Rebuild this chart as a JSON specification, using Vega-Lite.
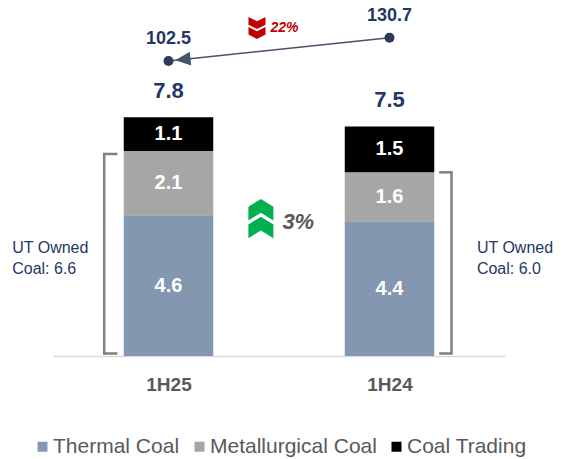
{
  "$schema": "https://vega.github.io/schema/vega-lite/v6.json",
  "width": 452,
  "height": 356,
  "autosize": {"type": "none"},
  "padding": {"left": 53, "top": 0, "right": 64, "bottom": 103},
  "background": "#ffffff",
  "config": {"view": {"stroke": null}, "text": {"font": "Liberation Sans"}},
  "datasets": {
    "volume": [
      {"period": "1H25", "idx": 1, "type": "Thermal Coal", "value": 4.6},
      {"period": "1H25", "idx": 1, "type": "Metallurgical Coal", "value": 2.1},
      {"period": "1H25", "idx": 1, "type": "Coal Trading", "value": 1.1},
      {"period": "1H24", "idx": 2, "type": "Thermal Coal", "value": 4.4},
      {"period": "1H24", "idx": 2, "type": "Metallurgical Coal", "value": 1.6},
      {"period": "1H24", "idx": 2, "type": "Coal Trading", "value": 1.5}
    ],
    "owned": [
      {"period": "1H25", "idx": 1, "owned": 6.6, "label": "UT Owned\nCoal: 6.6"},
      {"period": "1H24", "idx": 2, "owned": 6.0, "label": "UT Owned\nCoal: 6.0"}
    ],
    "price": [
      {"period": "1H25", "idx": 1, "price": 102.5},
      {"period": "1H24", "idx": 2, "price": 130.7}
    ],
    "change": [
      {"measure": "price", "direction": "down", "change": "22%"},
      {"measure": "volume", "direction": "up", "change": "3%"}
    ]
  },
  "layer": [
    {
      "layer": [
        {
          "data": {"name": "volume"},
          "mark": {"type": "bar", "width": 89.5},
          "encoding": {
            "x": {
              "field": "idx", "type": "quantitative", "title": null,
              "scale": {"domain": [0.5, 2.5], "nice": false, "zero": false},
              "axis": {
                "orient": "bottom",
                "values": [1, 2],
                "labelExpr": "datum.value == 1 ? '1H25' : '1H24'",
                "title": null, "ticks": false, "grid": false,
                "domainColor": "#d9d9d9", "domainWidth": 1.5,
                "labelFont": "Liberation Sans", "labelFontWeight": "bold",
                "labelFontSize": 19, "labelColor": "#595959",
                "labelBaseline": "alphabetic", "labelPadding": 34
              }
            },
            "y": {
              "field": "value", "type": "quantitative", "stack": "zero",
              "scale": {"domain": [0, 11.63], "nice": false, "zero": false},
              "axis": null
            },
            "color": {
              "field": "type", "type": "nominal",
              "scale": {
                "domain": ["Thermal Coal", "Metallurgical Coal", "Coal Trading"],
                "range": ["#8497b0", "#a6a6a6", "#000000"]
              },
              "legend": {
                "orient": "none", "legendX": -21, "legendY": 436,
                "direction": "horizontal", "title": null,
                "symbolType": "square", "symbolSize": 100, "symbolStrokeWidth": 0,
                "labelFont": "Liberation Sans", "labelFontSize": 21,
                "labelColor": "#595959", "labelOffset": 0,
                "columnPadding": 9, "padding": 0, "labelLimit": 400
              }
            },
            "order": {"field": "type", "sort": "descending"}
          }
        },
        {
          "data": {"name": "volume"},
          "mark": {"type": "text", "color": "#ffffff", "fontWeight": "bold", "fontSize": 20, "baseline": "middle"},
          "encoding": {
            "x": {"field": "idx", "type": "quantitative", "title": null},
            "y": {"field": "value", "type": "quantitative", "stack": "zero", "bandPosition": 0.5, "title": null, "axis": null},
            "detail": {"field": "type"},
            "text": {"field": "value", "type": "quantitative", "format": ".1f"},
            "order": {"field": "type", "sort": "descending"}
          }
        },
        {
          "data": {"name": "volume"},
          "mark": {"type": "text", "color": "#1f3864", "fontWeight": "bold", "fontSize": 22, "baseline": "alphabetic", "dy": -19},
          "encoding": {
            "x": {"field": "idx", "type": "quantitative", "title": null},
            "y": {"aggregate": "sum", "field": "value", "type": "quantitative", "title": null, "axis": null},
            "text": {"aggregate": "sum", "field": "value", "type": "quantitative", "format": ".1f"}
          }
        },
        {
          "data": {"name": "owned"},
          "transform": [{"filter": "datum.idx == 1"}],
          "mark": {"type": "rule", "color": "#7f7f7f", "strokeWidth": 2.5, "xOffset": -64.3, "y2Offset": -2.5},
          "encoding": {
            "x": {"field": "idx", "type": "quantitative", "title": null},
            "y": {"field": "owned", "type": "quantitative", "title": null, "axis": null},
            "y2": {"datum": 0}
          }
        },
        {
          "data": {"name": "owned"},
          "transform": [{"filter": "datum.idx == 1"}],
          "mark": {"type": "rule", "color": "#7f7f7f", "strokeWidth": 2.5, "xOffset": -65.5, "x2Offset": -51},
          "encoding": {
            "x": {"field": "idx", "type": "quantitative", "title": null},
            "x2": {"field": "idx"},
            "y": {"field": "owned", "type": "quantitative", "title": null, "axis": null}
          }
        },
        {
          "data": {"name": "owned"},
          "transform": [{"filter": "datum.idx == 1"}],
          "mark": {"type": "rule", "color": "#7f7f7f", "strokeWidth": 2.5, "xOffset": -65.5, "x2Offset": -51, "yOffset": -2.5},
          "encoding": {
            "x": {"field": "idx", "type": "quantitative", "title": null},
            "x2": {"field": "idx"},
            "y": {"datum": 0, "type": "quantitative", "title": null, "axis": null}
          }
        },
        {
          "data": {"name": "owned"},
          "transform": [{"filter": "datum.idx == 2"}],
          "mark": {"type": "rule", "color": "#7f7f7f", "strokeWidth": 2.5, "xOffset": 62, "y2Offset": -2.5},
          "encoding": {
            "x": {"field": "idx", "type": "quantitative", "title": null},
            "y": {"field": "owned", "type": "quantitative", "title": null, "axis": null},
            "y2": {"datum": 0}
          }
        },
        {
          "data": {"name": "owned"},
          "transform": [{"filter": "datum.idx == 2"}],
          "mark": {"type": "rule", "color": "#7f7f7f", "strokeWidth": 2.5, "xOffset": 49.7, "x2Offset": 63.2},
          "encoding": {
            "x": {"field": "idx", "type": "quantitative", "title": null},
            "x2": {"field": "idx"},
            "y": {"field": "owned", "type": "quantitative", "title": null, "axis": null}
          }
        },
        {
          "data": {"name": "owned"},
          "transform": [{"filter": "datum.idx == 2"}],
          "mark": {"type": "rule", "color": "#7f7f7f", "strokeWidth": 2.5, "xOffset": 49.7, "x2Offset": 63.2, "yOffset": -2.5},
          "encoding": {
            "x": {"field": "idx", "type": "quantitative", "title": null},
            "x2": {"field": "idx"},
            "y": {"datum": 0, "type": "quantitative", "title": null, "axis": null}
          }
        },
        {
          "data": {"name": "owned"},
          "transform": [{"filter": "datum.idx == 1"}],
          "mark": {"type": "text", "align": "left", "baseline": "alphabetic", "fontSize": 16, "color": "#1f3864", "lineHeight": 21, "lineBreak": "\n", "dx": -156.3},
          "encoding": {
            "x": {"field": "idx", "type": "quantitative", "title": null},
            "y": {"datum": 3.356, "type": "quantitative", "title": null, "axis": null},
            "text": {"field": "label"}
          }
        },
        {
          "data": {"name": "owned"},
          "transform": [{"filter": "datum.idx == 2"}],
          "mark": {"type": "text", "align": "left", "baseline": "alphabetic", "fontSize": 16, "color": "#1f3864", "lineHeight": 21, "lineBreak": "\n", "dx": 87.4},
          "encoding": {
            "x": {"field": "idx", "type": "quantitative", "title": null},
            "y": {"datum": 3.356, "type": "quantitative", "title": null, "axis": null},
            "text": {"field": "label"}
          }
        },
        {
          "data": {"name": "change"},
          "transform": [{"filter": "datum.direction == 'up'"}],
          "mark": {"type": "point", "shape": "M0,-1.56L1,-0.94L1,0.16L0,-0.46L-1,0.16L-1,-0.94Z M0,-0.14L1,0.48L1,1.58L0,0.96L-1,1.58L-1,0.48Z", "size": 625, "filled": true, "color": "#00b050", "opacity": 1},
          "encoding": {
            "x": {"datum": 1.418, "type": "quantitative", "title": null},
            "y": {"datum": 4.493, "type": "quantitative", "title": null, "axis": null}
          }
        },
        {
          "data": {"name": "change"},
          "transform": [{"filter": "datum.direction == 'up'"}],
          "mark": {"type": "text", "align": "left", "baseline": "alphabetic", "fontSize": 22, "fontWeight": "bold", "fontStyle": "italic", "color": "#595959", "dx": 21.5, "dy": 10.5},
          "encoding": {
            "x": {"datum": 1.418, "type": "quantitative", "title": null},
            "y": {"datum": 4.493, "type": "quantitative", "title": null, "axis": null},
            "text": {"field": "change"}
          }
        }
      ]
    },
    {
      "layer": [
        {
          "data": {"name": "price"},
          "mark": {"type": "line", "color": "#44546a", "strokeWidth": 1.5},
          "encoding": {
            "x": {"field": "idx", "type": "quantitative", "title": null},
            "y": {"field": "price", "type": "quantitative", "title": null, "scale": {"domain": [-254.55, 176.34], "nice": false, "zero": false}, "axis": null}
          }
        },
        {
          "data": {"name": "price"},
          "mark": {"type": "point", "shape": "circle", "size": 100, "filled": true, "color": "#2e3b55", "opacity": 1},
          "encoding": {
            "x": {"field": "idx", "type": "quantitative", "title": null},
            "y": {"field": "price", "type": "quantitative", "title": null, "axis": null}
          }
        },
        {
          "data": {"name": "price"},
          "transform": [{"filter": "datum.idx == 1"}],
          "mark": {"type": "point", "shape": "M-1,0L1,-0.9L1,0.9Z", "size": 234, "angle": 354, "filled": true, "color": "#44546a", "opacity": 1, "xOffset": 14.4, "yOffset": -1.5},
          "encoding": {
            "x": {"field": "idx", "type": "quantitative", "title": null},
            "y": {"field": "price", "type": "quantitative", "title": null, "axis": null}
          }
        },
        {
          "data": {"name": "price"},
          "mark": {"type": "text", "color": "#1f3864", "fontWeight": "bold", "fontSize": 18, "baseline": "alphabetic", "dy": -17},
          "encoding": {
            "x": {"field": "idx", "type": "quantitative", "title": null},
            "y": {"field": "price", "type": "quantitative", "title": null, "axis": null},
            "text": {"field": "price", "type": "quantitative", "format": ".1f"}
          }
        },
        {
          "data": {"name": "change"},
          "transform": [{"filter": "datum.direction == 'down'"}],
          "mark": {"type": "point", "shape": "M0,0.115L1,-0.395L1,-1.3L0,-0.79L-1,-1.3L-1,-0.395Z M0,1.284L1,0.774L1,-0.132L0,0.379L-1,-0.132L-1,0.774Z", "size": 289, "filled": true, "color": "#c00000", "opacity": 1},
          "encoding": {
            "x": {"datum": 1.4004, "type": "quantitative", "title": null},
            "y": {"datum": 142.45, "type": "quantitative", "title": null, "axis": null}
          }
        },
        {
          "data": {"name": "change"},
          "transform": [{"filter": "datum.direction == 'down'"}],
          "mark": {"type": "text", "align": "left", "baseline": "alphabetic", "fontSize": 14, "fontWeight": "bold", "fontStyle": "italic", "color": "#c00000", "dx": 13.5, "dy": 4},
          "encoding": {
            "x": {"datum": 1.4004, "type": "quantitative", "title": null},
            "y": {"datum": 142.45, "type": "quantitative", "title": null, "axis": null},
            "text": {"field": "change"}
          }
        }
      ]
    }
  ],
  "resolve": {"scale": {"y": "independent"}}
}
